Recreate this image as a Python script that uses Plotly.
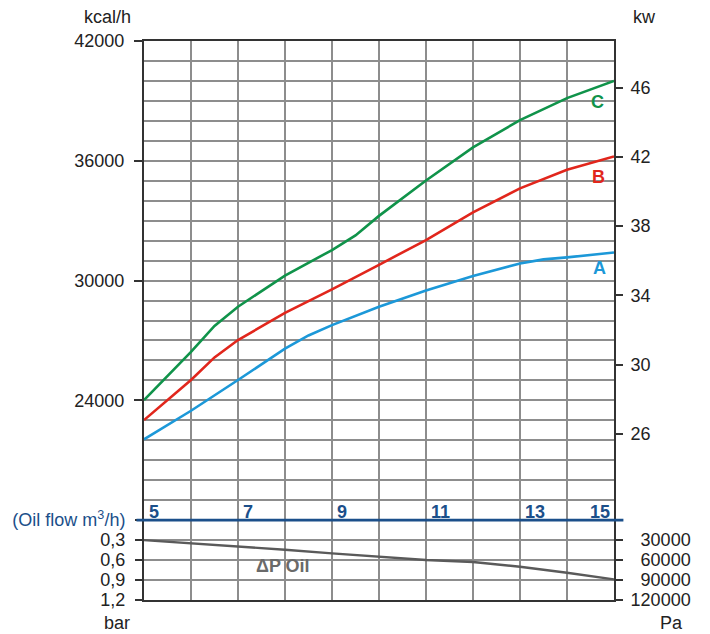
import plotly.graph_objects as go

# ---- data ----
q_A = [5, 6, 7, 8, 8.5, 9, 10, 11, 12, 13, 13.5, 14, 15]
kcal_A = [22050, 23480, 25020, 26590, 27250, 27770, 28690, 29500, 30230, 30860, 31060, 31160, 31410]

q_B = [5, 6, 6.5, 7, 8, 9, 10, 11, 12, 13, 14, 15]
kcal_B = [23010, 25020, 26150, 27020, 28380, 29560, 30790, 32030, 33420, 34620, 35550, 36220]

q_C = [5, 6, 6.5, 7, 8, 9, 9.5, 10, 11, 12, 13, 14, 15]
kcal_C = [24010, 26430, 27730, 28690, 30250, 31530, 32260, 33240, 35010, 36670, 38040, 39140, 40000]

q_dp = [5, 6, 7, 8, 9, 10, 11, 12, 13, 14, 15]
dp_bar = [0.30, 0.345, 0.39, 0.445, 0.50, 0.55, 0.60, 0.63, 0.70, 0.79, 0.89]

kcal_ticks = [24000, 30000, 36000, 42000]
kw_ticks = [26, 30, 34, 38, 42, 46]
bar_ticks = [0, 0.3, 0.6, 0.9, 1.2]
bar_labels = ["<span style='color:#1b4f8a'>(Oil flow m<sup>3</sup>/h)</span>", "0,3", "0,6", "0,9", "1,2"]
pa_ticks = [30000, 60000, 90000, 120000]
pa_labels = ["\u00a0\u00a030000", "\u00a0\u00a060000", "\u00a0\u00a090000", "120000"]
flow_ticks = [5, 7, 9, 11, 13, 15]

GREEN = "#10934a"
RED = "#e1261c"
BLUE = "#1c98d8"
NAVY = "#1b4f8a"
GRID = "#8d8d8d"
DARK = "#333333"
TXT = "#222222"
FONT = "Liberation Sans, Arial, sans-serif"
FS = 18

# page has an 8px body margin: plot area must land at x 144..614, y 41..600
OFF = 8
L, T, PW, PH = 144 - OFF, 41 - OFF, 470, 559
W, H = 710 - OFF, 634 - OFF

fig = go.Figure()
fig.add_trace(go.Scatter(x=q_A, y=kcal_A, mode="lines", line=dict(color=BLUE, width=2.6), yaxis="y"))
fig.add_trace(go.Scatter(x=q_B, y=kcal_B, mode="lines", line=dict(color=RED, width=2.6), yaxis="y"))
fig.add_trace(go.Scatter(x=q_C, y=kcal_C, mode="lines", line=dict(color=GREEN, width=2.6), yaxis="y"))
fig.add_trace(go.Scatter(x=q_dp, y=dp_bar, mode="lines", line=dict(color="#5a5a5a", width=2.4), yaxis="y3"))
# empty traces so the secondary right-hand scales get drawn
fig.add_trace(go.Scatter(x=[None], y=[None], mode="lines", yaxis="y2", hoverinfo="skip"))
fig.add_trace(go.Scatter(x=[None], y=[None], mode="lines", yaxis="y4", hoverinfo="skip"))

tickfont = dict(family=FONT, size=FS, color=TXT)

fig.update_layout(
    width=W, height=H,
    margin=dict(l=L, r=W - L - PW, t=T, b=H - T - PH, autoexpand=False),
    paper_bgcolor="white", plot_bgcolor="white",
    showlegend=False,
    font=dict(family=FONT, size=FS, color=TXT),
    xaxis=dict(range=[5, 15], tickmode="linear", tick0=5, dtick=1, showgrid=True,
               gridcolor=GRID, gridwidth=1.5, showticklabels=False, ticks="", automargin=False,
               zeroline=False, showline=True, linecolor=DARK, linewidth=2, mirror=True),
    yaxis=dict(range=[14000, 42000], tickmode="array", tickvals=kcal_ticks,
               ticktext=[str(v) for v in kcal_ticks], ticks="outside", ticklen=8,
               tickwidth=1.5, tickcolor=DARK, tickfont=tickfont, showgrid=False,
               ticklabelstandoff=6, automargin=False,
               minor=dict(tickmode="linear", tick0=14000, dtick=1000, showgrid=True,
                          gridcolor=GRID, gridwidth=1.5, ticks=""),
               zeroline=False, showline=True, linecolor=DARK, linewidth=2, mirror=True),
    yaxis2=dict(overlaying="y", anchor="x", side="right", range=[16.42, 48.69], tickmode="array",
                tickvals=kw_ticks, ticktext=[str(v) for v in kw_ticks], ticks="outside",
                ticklen=8, tickwidth=1.5, tickcolor=DARK, tickfont=tickfont,
                ticklabelstandoff=4, automargin=False,
                showgrid=False, zeroline=False, showline=False),
    yaxis3=dict(overlaying="y", anchor="x", side="left", range=[1.2, -7.2], tickmode="array",
                tickvals=bar_ticks, ticktext=bar_labels, ticks="outside", ticklen=8,
                tickwidth=1.5, tickcolor=DARK, tickfont=tickfont, ticklabelstandoff=6,
                automargin=False,
                showgrid=False, zeroline=False, showline=False),
    yaxis4=dict(overlaying="y", anchor="x", side="right", range=[120000, -720000], tickmode="array",
                tickvals=pa_ticks, ticktext=pa_labels, ticks="outside", ticklen=8,
                tickwidth=1.5, tickcolor=DARK, tickfont=tickfont, ticklabelstandoff=4,
                automargin=False,
                showgrid=False, zeroline=False, showline=False),
)

# oil-flow baseline (0 bar level) as a navy rule
fig.add_shape(type="line", xref="paper", yref="y3", x0=-0.016, x1=1.02, y0=0, y1=0,
              line=dict(color=NAVY, width=2.6))

# oil flow values
for v in flow_ticks:
    last = v == flow_ticks[-1]
    fig.add_annotation(x=v, y=0, xref="x", yref="y3", text=f"<b>{v}</b>", showarrow=False,
                       xanchor="right" if last else "left", yanchor="middle",
                       xshift=-2 if last else 3, yshift=8,
                       font=dict(family=FONT, size=FS, color=NAVY))

# curve labels
fig.add_annotation(x=14.64, y=38960, xref="x", yref="y", text="<b>C</b>", showarrow=False,
                   font=dict(family=FONT, size=FS, color=GREEN))
fig.add_annotation(x=14.68, y=35200, xref="x", yref="y", text="<b>B</b>", showarrow=False,
                   font=dict(family=FONT, size=FS, color=RED))
fig.add_annotation(x=14.70, y=30610, xref="x", yref="y", text="<b>A</b>", showarrow=False,
                   font=dict(family=FONT, size=FS, color=BLUE))
fig.add_annotation(x=7.96, y=0.686, xref="x", yref="y3", text="<b>\u0394P Oil</b>", showarrow=False,
                   font=dict(family=FONT, size=FS, color="#6a6a6a"))


def px_note(text, xpx, ypx, anchor):
    fig.add_annotation(x=(xpx - 144) / PW, y=(600 - ypx) / PH, xref="paper", yref="paper",
                       text=text, showarrow=False, xanchor=anchor, yanchor="middle",
                       font=dict(family=FONT, size=FS, color=TXT))


px_note("kcal/h", 133, 17, "right")
px_note("kw", 631, 17, "left")
px_note("bar", 132, 623, "right")
px_note("Pa", 658, 623, "left")

fig.write_html("out.html")
